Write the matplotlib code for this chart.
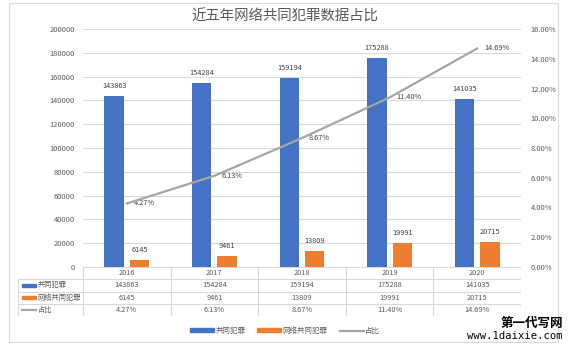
import matplotlib.pyplot as plt
from matplotlib.patches import Patch, Rectangle
from matplotlib.lines import Line2D

plt.rcParams['font.family'] = ['Noto Sans CJK SC', 'DejaVu Sans']

years = ['2016', '2017', '2018', '2019', '2020']
joint_crime = [143863, 154284, 159194, 175288, 141035]
online_joint_crime = [6145, 9461, 13809, 19991, 20715]
share_pct = [4.27, 6.13, 8.67, 11.40, 14.69]

series_names = ['共同犯罪', '网络共同犯罪', '占比']
blue = '#4472C4'
orange = '#ED7D31'
gray = '#A5A5A5'
txt = '#595959'
grid = '#D9D9D9'

W, H = 574, 350
fig = plt.figure(figsize=(W / 100, H / 100), dpi=100)

def fx(px):
    return px / W

def fy(py):
    return 1 - py / H

# outer chart border
fig.add_artist(Rectangle((fx(9), fy(342)), fx(558) - fx(9), fy(3) - fy(342),
                         transform=fig.transFigure, fill=False, ec=grid, lw=0.8))

fig.text(fx(285), fy(17), '近五年网络共同犯罪数据占比', ha='center', va='center',
         fontsize=10.4, color=txt)

# main plot area
left, right, top, bottom = 83, 521, 29, 267
ax = fig.add_axes([fx(left), fy(bottom), fx(right) - fx(left), fy(top) - fy(bottom)])
ax2 = ax.twinx()

x = range(len(years))
bw = 0.22
off = 0.145
ax.bar([i - off for i in x], joint_crime, bw, color=blue, zorder=3)
ax.bar([i + off for i in x], online_joint_crime, bw, color=orange, zorder=3)
for i in x:
    ax.text(i - off, joint_crime[i] + 5000, str(joint_crime[i]), ha='center', va='bottom',
            fontsize=5.3, color='#404040')
    ax.text(i + off, online_joint_crime[i] + 5000, str(online_joint_crime[i]), ha='center',
            va='bottom', fontsize=5.3, color='#404040')

ax.set_xlim(-0.5, len(years) - 0.5)
ax.set_ylim(0, 200000)
ax.set_yticks(range(0, 200001, 20000))
ax.yaxis.grid(True, color=grid, lw=0.8, zorder=0)
ax.set_axisbelow(True)
ax.set_xticks([])
ax.tick_params(axis='y', length=0, labelsize=5.4, labelcolor=txt, pad=6)

ax2.plot(list(x), share_pct, color=gray, lw=1.6, zorder=4)
for i in x:
    ax2.text(i + 0.08, share_pct[i], f'{share_pct[i]:.2f}%', ha='left', va='center',
             fontsize=5.3, color='#404040')
ax2.set_ylim(0, 16)
ax2.set_yticks(range(0, 17, 2))
ax2.set_yticklabels([f'{v:.2f}%' for v in range(0, 17, 2)])
ax2.tick_params(axis='y', length=0, labelsize=5.4, labelcolor=txt, pad=7)

for a in (ax, ax2):
    for s in a.spines.values():
        s.set_visible(False)

# data table under the plot
label_w = (left - 18) / ((right - left) / len(years))
tab = fig.add_axes([fx(18), fy(316), fx(right) - fx(18), fy(267) - fy(316)])
tab.set_xlim(-0.5 - label_w, len(years) - 0.5)
tab.set_ylim(4, 0)
tab.axis('off')
lc = dict(color=grid, lw=0.8)
tab.plot([-0.5, len(years) - 0.5], [0, 0], **lc)
for r in range(1, 5):
    tab.plot([-0.5 - label_w, len(years) - 0.5], [r, r], **lc)
tab.plot([-0.5 - label_w] * 2, [1, 4], **lc)
for c in range(len(years) + 1):
    tab.plot([c - 0.5] * 2, [0, 4], **lc)

rows = [joint_crime, online_joint_crime, [f'{v:.2f}%' for v in share_pct]]
for i, yr in enumerate(years):
    tab.text(i, 0.5, yr, ha='center', va='center', fontsize=5.3, color=txt)
    for r, vals in enumerate(rows):
        tab.text(i, r + 1.5, str(vals[i]), ha='center', va='center', fontsize=5.3, color=txt)

key_x0 = -0.5 - label_w + 0.04
key_x1 = key_x0 + 0.17
tab.add_patch(Rectangle((key_x0, 1.38), key_x1 - key_x0, 0.25, color=blue))
tab.add_patch(Rectangle((key_x0, 2.38), key_x1 - key_x0, 0.25, color=orange))
tab.plot([key_x0, key_x1], [3.5, 3.5], color=gray, lw=1.6)
for r, name in enumerate(series_names):
    tab.text(key_x1 + 0.015, r + 1.5, name, ha='left', va='center', fontsize=5.2, color=txt)

# legend at the bottom
handles = [Patch(color=blue), Patch(color=orange), Line2D([], [], color=gray, lw=1.6)]
fig.legend(handles, series_names, loc='center', bbox_to_anchor=(fx(285), fy(331)),
           ncol=3, frameon=False, fontsize=5.4, labelcolor=txt, handlelength=3.2,
           handleheight=0.5, handletextpad=0.2, columnspacing=1.6)

fig.text(fx(563), fy(323), '第一代写网', ha='right', va='center', fontsize=9,
         fontweight='bold', color='black')
fig.text(fx(563), fy(336), 'www.1daixie.com', ha='right', va='center', fontsize=7.6,
         family='DejaVu Sans Mono', color='black')

fig.savefig('out.png', dpi=100)
